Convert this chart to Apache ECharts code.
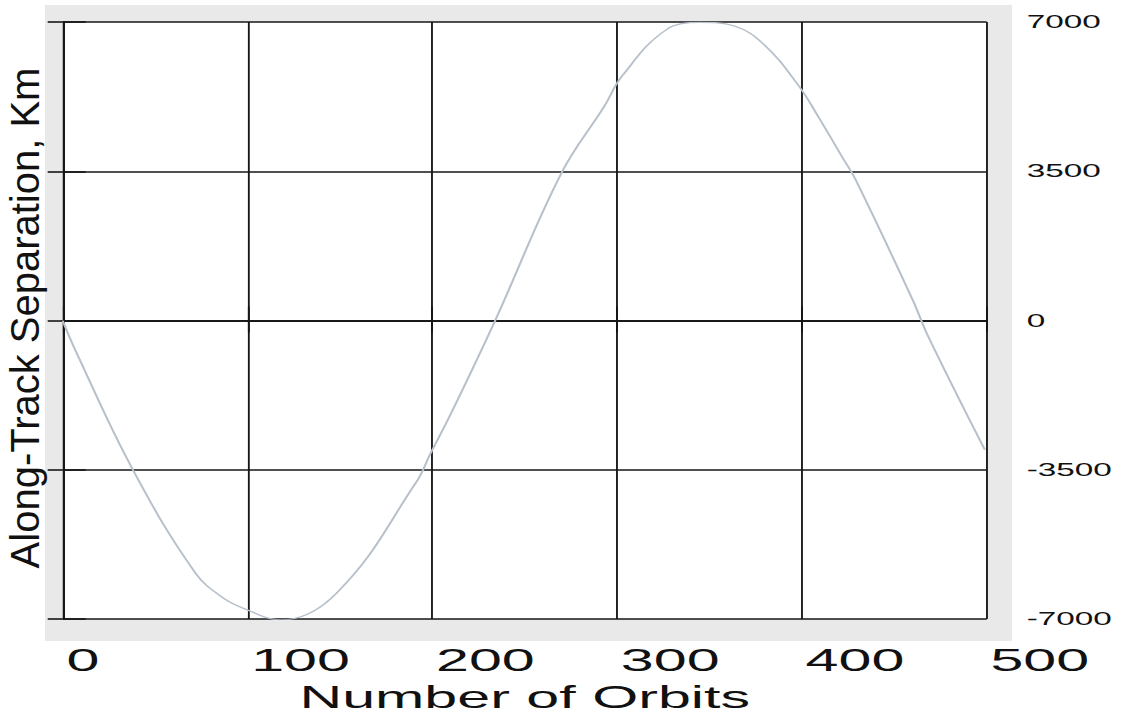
<!DOCTYPE html>
<html>
<head>
<meta charset="utf-8">
<title>Along-Track Separation vs Number of Orbits</title>
<script src="https://cdn.jsdelivr.net/npm/echarts@6/dist/echarts.min.js"></script>
<style>
  html, body { margin: 0; padding: 0; background: #fff; overflow: hidden; width: 1122px; height: 718px; }
  #chart { height: 718px; transform-origin: 0 0; }
</style>
</head>
<body>
<div id="chart"></div>
<script>
// Orbit count (x) and along-track separation in km (y)
const orbits = [0, 7, 38, 72, 87, 98, 118, 148, 191, 199, 210, 234, 270, 293, 303, 327, 345, 363, 379, 398, 409, 422, 429, 460, 468, 499];
const separationKm = [0, -710, -3500, -5930, -6510, -6750, -7020, -6400, -3810, -3120, -2190, 0, 3470, 5020, 5750, 6830, 6990, 6910, 6490, 5520, 4770, 3820, 3310, 480, -340, -3030];

// Axis ticks
const xTicks = [0, 100, 200, 300, 400, 500];
const yTicks = [-7000, -3500, 0, 3500, 7000];

// The page is laid out narrow and widened horizontally, giving the wide lettering of the plot
const STRETCH = 1.85;
const W = 1122 / STRETCH;
const el = document.getElementById('chart');
el.style.width = W + 'px';
el.style.transform = 'scaleX(' + STRETCH + ')';

const ink = '#161616';
const font = '"Liberation Sans", Arial, Helvetica, sans-serif';

const gridLeft = 62.7 / STRETCH;
const gridWidth = (986.7 - 62.7) / STRETCH;

const chart = echarts.init(el, null, { renderer: 'svg' });

chart.setOption({
  animation: false,
  backgroundColor: '#fff',
  grid: {
    left: gridLeft, top: 22, width: gridWidth, height: 603,
    show: true, backgroundColor: '#fff', borderWidth: 0
  },
  graphic: [
    {
      type: 'rect', z: -10, silent: true,
      shape: { x: 45 / STRETCH, y: 5, width: (1012 - 45) / STRETCH, height: 636 },
      style: { fill: '#e9e9e9' }
    },
    {
      // vertical axis title, kept at its natural width despite the horizontal widening
      type: 'text', z: 10, silent: true,
      x: 25 / STRETCH, y: 318,
      rotation: Math.PI / 2,
      scaleY: 1 / STRETCH,
      style: {
        text: 'Along-Track Separation, Km',
        fontSize: 40, fontFamily: font, fill: '#111',
        align: 'center', verticalAlign: 'middle'
      }
    }
  ],
  xAxis: [
    {
      type: 'value', position: 'bottom',
      min: xTicks[0], max: xTicks[xTicks.length - 1], interval: xTicks[1] - xTicks[0],
      axisLine: { show: true, lineStyle: { color: ink, width: 1.6 } },
      axisTick: { show: true, inside: false, length: 12, lineStyle: { color: ink, width: 1 } },
      axisLabel: {
        show: true, margin: 25, align: 'left', padding: [0, 0, 0, 2],
        fontSize: 32, fontFamily: font, color: '#111',
        showMinLabel: true, showMaxLabel: true,
        formatter: v => xTicks.includes(v) ? String(v) : ''
      },
      splitLine: { show: true, lineStyle: { color: ink, width: 1 } },
      name: 'Number of Orbits', nameLocation: 'middle', nameGap: 52,
      nameTextStyle: { fontSize: 32, fontFamily: font, color: '#111' }
    },
    {
      type: 'value', position: 'top',
      min: xTicks[0], max: xTicks[xTicks.length - 1], interval: xTicks[1] - xTicks[0],
      axisLine: { show: true, lineStyle: { color: ink, width: 1.6 } },
      axisTick: { show: true, inside: false, length: 14, lineStyle: { color: ink, width: 1 } },
      axisLabel: { show: false },
      splitLine: { show: false }
    }
  ],
  yAxis: [
    {
      type: 'value', position: 'right',
      min: yTicks[0], max: yTicks[yTicks.length - 1], interval: yTicks[1] - yTicks[0],
      axisLine: { show: true, lineStyle: { color: ink, width: 1 } },
      axisTick: { show: true, inside: false, length: 23 / STRETCH, lineStyle: { color: ink, width: 1.6 } },
      axisLabel: {
        show: true, margin: 40 / STRETCH, align: 'left',
        fontSize: 18, fontFamily: font, color: '#111',
        showMinLabel: true, showMaxLabel: true,
        formatter: v => yTicks.includes(v) ? String(v) : ''
      },
      splitLine: { show: true, lineStyle: { color: ink, width: 1.6 } }
    },
    {
      type: 'value', position: 'left',
      min: yTicks[0], max: yTicks[yTicks.length - 1], interval: yTicks[1] - yTicks[0],
      axisLine: { show: true, lineStyle: { color: ink, width: 1 } },
      axisTick: { show: true, inside: false, length: 15 / STRETCH, lineStyle: { color: ink, width: 1.6 } },
      axisLabel: { show: false },
      splitLine: { show: false }
    }
  ],
  series: [
    {
      type: 'line',
      xAxisIndex: 0, yAxisIndex: 0,
      data: orbits.map((o, i) => [o, separationKm[i]]),
      smooth: 0.4,
      showSymbol: false,
      lineStyle: { color: '#b7c0cb', width: 1.2 },
      z: 1
    }
  ]
});
</script>
</body>
</html>
